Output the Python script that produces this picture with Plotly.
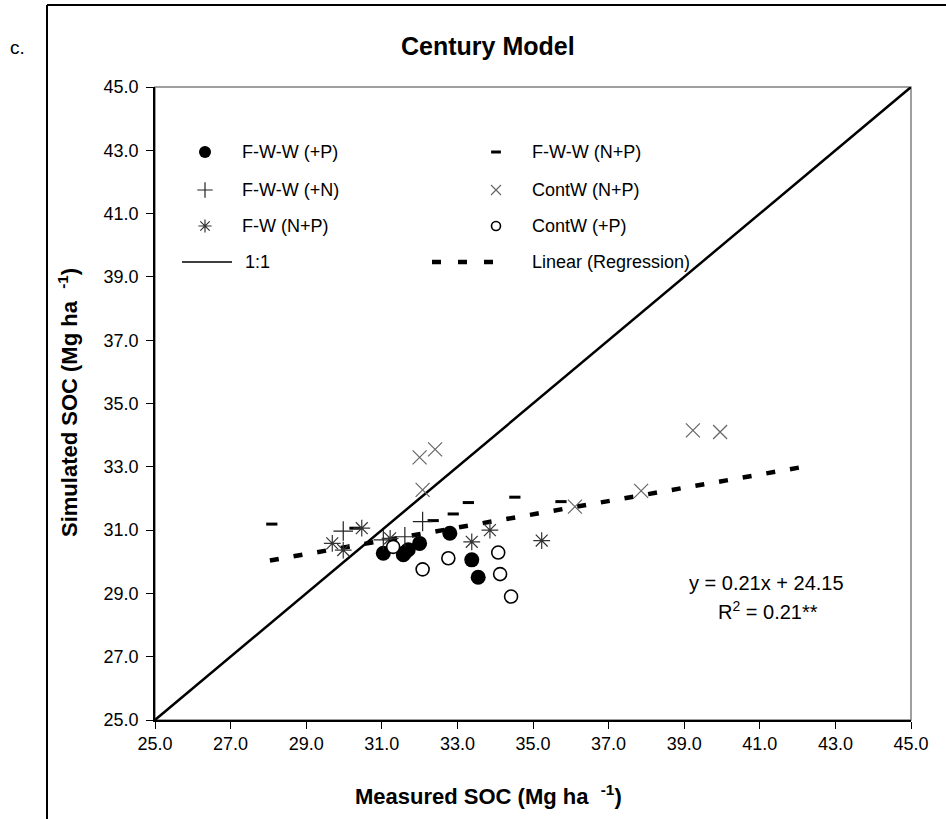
import plotly.graph_objects as go

# ---------------- data ----------------
fww_p_x = [31.04, 31.57, 31.62, 31.70, 32.00, 32.80, 33.38, 33.55]
fww_p_y = [30.27, 30.22, 30.30, 30.38, 30.58, 30.90, 30.06, 29.51]

fww_np_x = [28.09, 30.29, 32.36, 32.89, 33.29, 34.52, 35.74]
fww_np_y = [31.19, 31.06, 31.30, 31.51, 31.87, 32.04, 31.90]

fww_n_x = [29.98, 31.04, 31.61, 32.08]
fww_n_y = [30.97, 30.69, 30.79, 31.27]

contw_np_x = [32.00, 32.41, 32.08, 36.11, 37.86, 39.23, 39.95]
contw_np_y = [33.30, 33.55, 32.27, 31.74, 32.24, 34.15, 34.10]

fw_np_x = [29.69, 29.98, 30.47, 31.22, 33.38, 33.86, 35.23]
fw_np_y = [30.58, 30.37, 31.06, 30.74, 30.63, 31.00, 30.67]

contw_p_x = [31.30, 32.08, 32.76, 34.08, 34.13, 34.42]
contw_p_y = [30.47, 29.76, 30.11, 30.29, 29.61, 28.90]

one_x = [25.0, 45.0]
one_y = [25.0, 45.0]

reg_x = [28.04, 42.40]
reg_y = [30.04, 33.05]

tick_vals = [25, 27, 29, 31, 33, 35, 37, 39, 41, 43, 45]
tick_text = ["25.0", "27.0", "29.0", "31.0", "33.0", "35.0", "37.0", "39.0", "41.0", "43.0", "45.0"]

legend_names = ["F-W-W (+P)", "F-W-W (N+P)", "F-W-W (+N)", "ContW (N+P)",
                "F-W (N+P)", "ContW (+P)", "1:1", "Linear (Regression)"]

# ---------------- layout geometry (pixels) ----------------
W, H = 946, 819
L, R, T, B = 155, 911, 87, 720
PW, PH = R - L, B - T


def px(xp):
    return (xp - L) / PW


def py(yp):
    return (B - yp) / PH


FONT = "Liberation Sans, Arial, sans-serif"

fig = go.Figure()

# lines
fig.add_trace(go.Scatter(x=one_x, y=one_y, mode="lines",
                         line=dict(color="black", width=2.5), showlegend=False))
fig.add_trace(go.Scatter(x=reg_x, y=reg_y, mode="lines",
                         line=dict(color="black", width=4.5, dash="9px,15px"), showlegend=False))

styles = [
    (fww_p_x, fww_p_y, dict(symbol="circle", size=15, color="black")),
    (fww_np_x, fww_np_y, dict(symbol="line-ew", size=8, color="black",
                              line=dict(color="black", width=3))),
    (fww_n_x, fww_n_y, dict(symbol="cross-thin", size=14, color="black",
                            line=dict(color="#222222", width=1.2))),
    (contw_np_x, contw_np_y, dict(symbol="x-thin", size=14, color="#666666",
                                  line=dict(color="#666666", width=1.2))),
    (fw_np_x, fw_np_y, dict(symbol="asterisk", size=14, color="#333333",
                            line=dict(color="#333333", width=1.2))),
    (contw_p_x, contw_p_y, dict(symbol="circle", size=13, color="white",
                                line=dict(color="black", width=1.6))),
]
for xs, ys, mk in styles:
    fig.add_trace(go.Scatter(x=xs, y=ys, mode="markers", marker=mk, showlegend=False))

# ---------------- manual legend (2 columns) ----------------
leg_rows = [152, 190, 226, 262]
col_mark = [205, 496]
col_text = [240, 530]
leg_marks = [
    dict(symbol="circle", size=12, color="black"),
    dict(symbol="line-ew", size=7, color="black", line=dict(color="black", width=3)),
    dict(symbol="cross-thin", size=11, color="black", line=dict(color="#222222", width=1.2)),
    dict(symbol="x-thin", size=10, color="#666666", line=dict(color="#666666", width=1.2)),
    dict(symbol="asterisk", size=11, color="#333333", line=dict(color="#333333", width=1.2)),
    dict(symbol="circle", size=9, color="white", line=dict(color="black", width=1.6)),
]
for i, mk in enumerate(leg_marks):
    r, c = divmod(i, 2)
    fig.add_trace(go.Scatter(x=[px(col_mark[c])], y=[py(leg_rows[r])], mode="markers",
                             marker=mk, xaxis="x2", yaxis="y2", showlegend=False,
                             hoverinfo="skip"))
# line samples
fig.add_trace(go.Scatter(x=[px(182), px(232)], y=[py(leg_rows[3])] * 2, mode="lines",
                         line=dict(color="black", width=1.5), xaxis="x2", yaxis="y2",
                         showlegend=False, hoverinfo="skip"))
fig.add_trace(go.Scatter(x=[px(432), px(494)], y=[py(leg_rows[3])] * 2, mode="lines",
                         line=dict(color="black", width=4.5, dash="9px,17px"), xaxis="x2", yaxis="y2",
                         showlegend=False, hoverinfo="skip"))

annotations = []
for i, name in enumerate(legend_names):
    r, c = divmod(i, 2)
    tx = col_text[c] if i != 6 else 243
    annotations.append(dict(text=name, x=px(tx), y=py(leg_rows[r]), xref="paper", yref="paper",
                            xanchor="left", yanchor="middle", showarrow=False,
                            font=dict(family=FONT, size=18, color="black")))

# titles & texts
annotations += [
    dict(text="c.", x=px(17), y=py(47), xref="paper", yref="paper", showarrow=False,
         xanchor="center", yanchor="middle", font=dict(family=FONT, size=19, color="black")),
    dict(text="<b>Century Model</b>", x=px(488), y=py(46), xref="paper", yref="paper",
         showarrow=False, xanchor="center", yanchor="middle",
         font=dict(family=FONT, size=25, color="black")),
    dict(text="<b>Measured SOC (Mg ha  <sup>-1</sup>)</b>", x=px(488), y=py(795), xref="paper",
         yref="paper", showarrow=False, xanchor="center", yanchor="middle",
         font=dict(family=FONT, size=22, color="black")),
    dict(text="<b>Simulated SOC (Mg ha  <sup>-1</sup>)</b>", x=px(68), y=py(403), xref="paper",
         yref="paper", showarrow=False, xanchor="center", yanchor="middle", textangle=-90,
         font=dict(family=FONT, size=22, color="black")),
    dict(text="y = 0.21x + 24.15", x=px(766), y=py(583), xref="paper", yref="paper",
         showarrow=False, xanchor="center", yanchor="middle",
         font=dict(family=FONT, size=20, color="black")),
    dict(text="R<sup>2</sup> = 0.21**", x=px(768), y=py(610), xref="paper", yref="paper",
         showarrow=False, xanchor="center", yanchor="middle",
         font=dict(family=FONT, size=20, color="black")),
]

shapes = [
    # grey plot-area border
    dict(type="rect", xref="paper", yref="paper", x0=0, x1=1, y0=0, y1=1,
         line=dict(color="#808080", width=1.5), layer="below"),
    # outer chart frame (left & top)
    dict(type="line", xref="paper", yref="paper", x0=px(47), x1=px(47), y0=py(5), y1=py(830),
         line=dict(color="black", width=2)),
    dict(type="line", xref="paper", yref="paper", x0=px(47), x1=px(960), y0=py(5), y1=py(5),
         line=dict(color="black", width=2)),
]

axis_common = dict(range=[25, 45], tickvals=tick_vals, ticktext=tick_text, ticks="outside",
                   ticklen=7, tickwidth=1.2, tickcolor="black", showline=True, linecolor="black",
                   linewidth=1.5, showgrid=False, zeroline=False,
                   tickfont=dict(family=FONT, size=18, color="black"))

fig.update_layout(
    width=W, height=H,
    margin=dict(l=L, r=W - R, t=T, b=H - B),
    paper_bgcolor="white", plot_bgcolor="white",
    showlegend=False,
    xaxis=dict(**axis_common),
    yaxis=dict(**axis_common, ticklabelstandoff=4),
    xaxis2=dict(range=[0, 1], overlaying="x", visible=False, fixedrange=True),
    yaxis2=dict(range=[0, 1], overlaying="y", visible=False, fixedrange=True),
    annotations=annotations,
    shapes=shapes,
)

fig.write_html("out.html")
